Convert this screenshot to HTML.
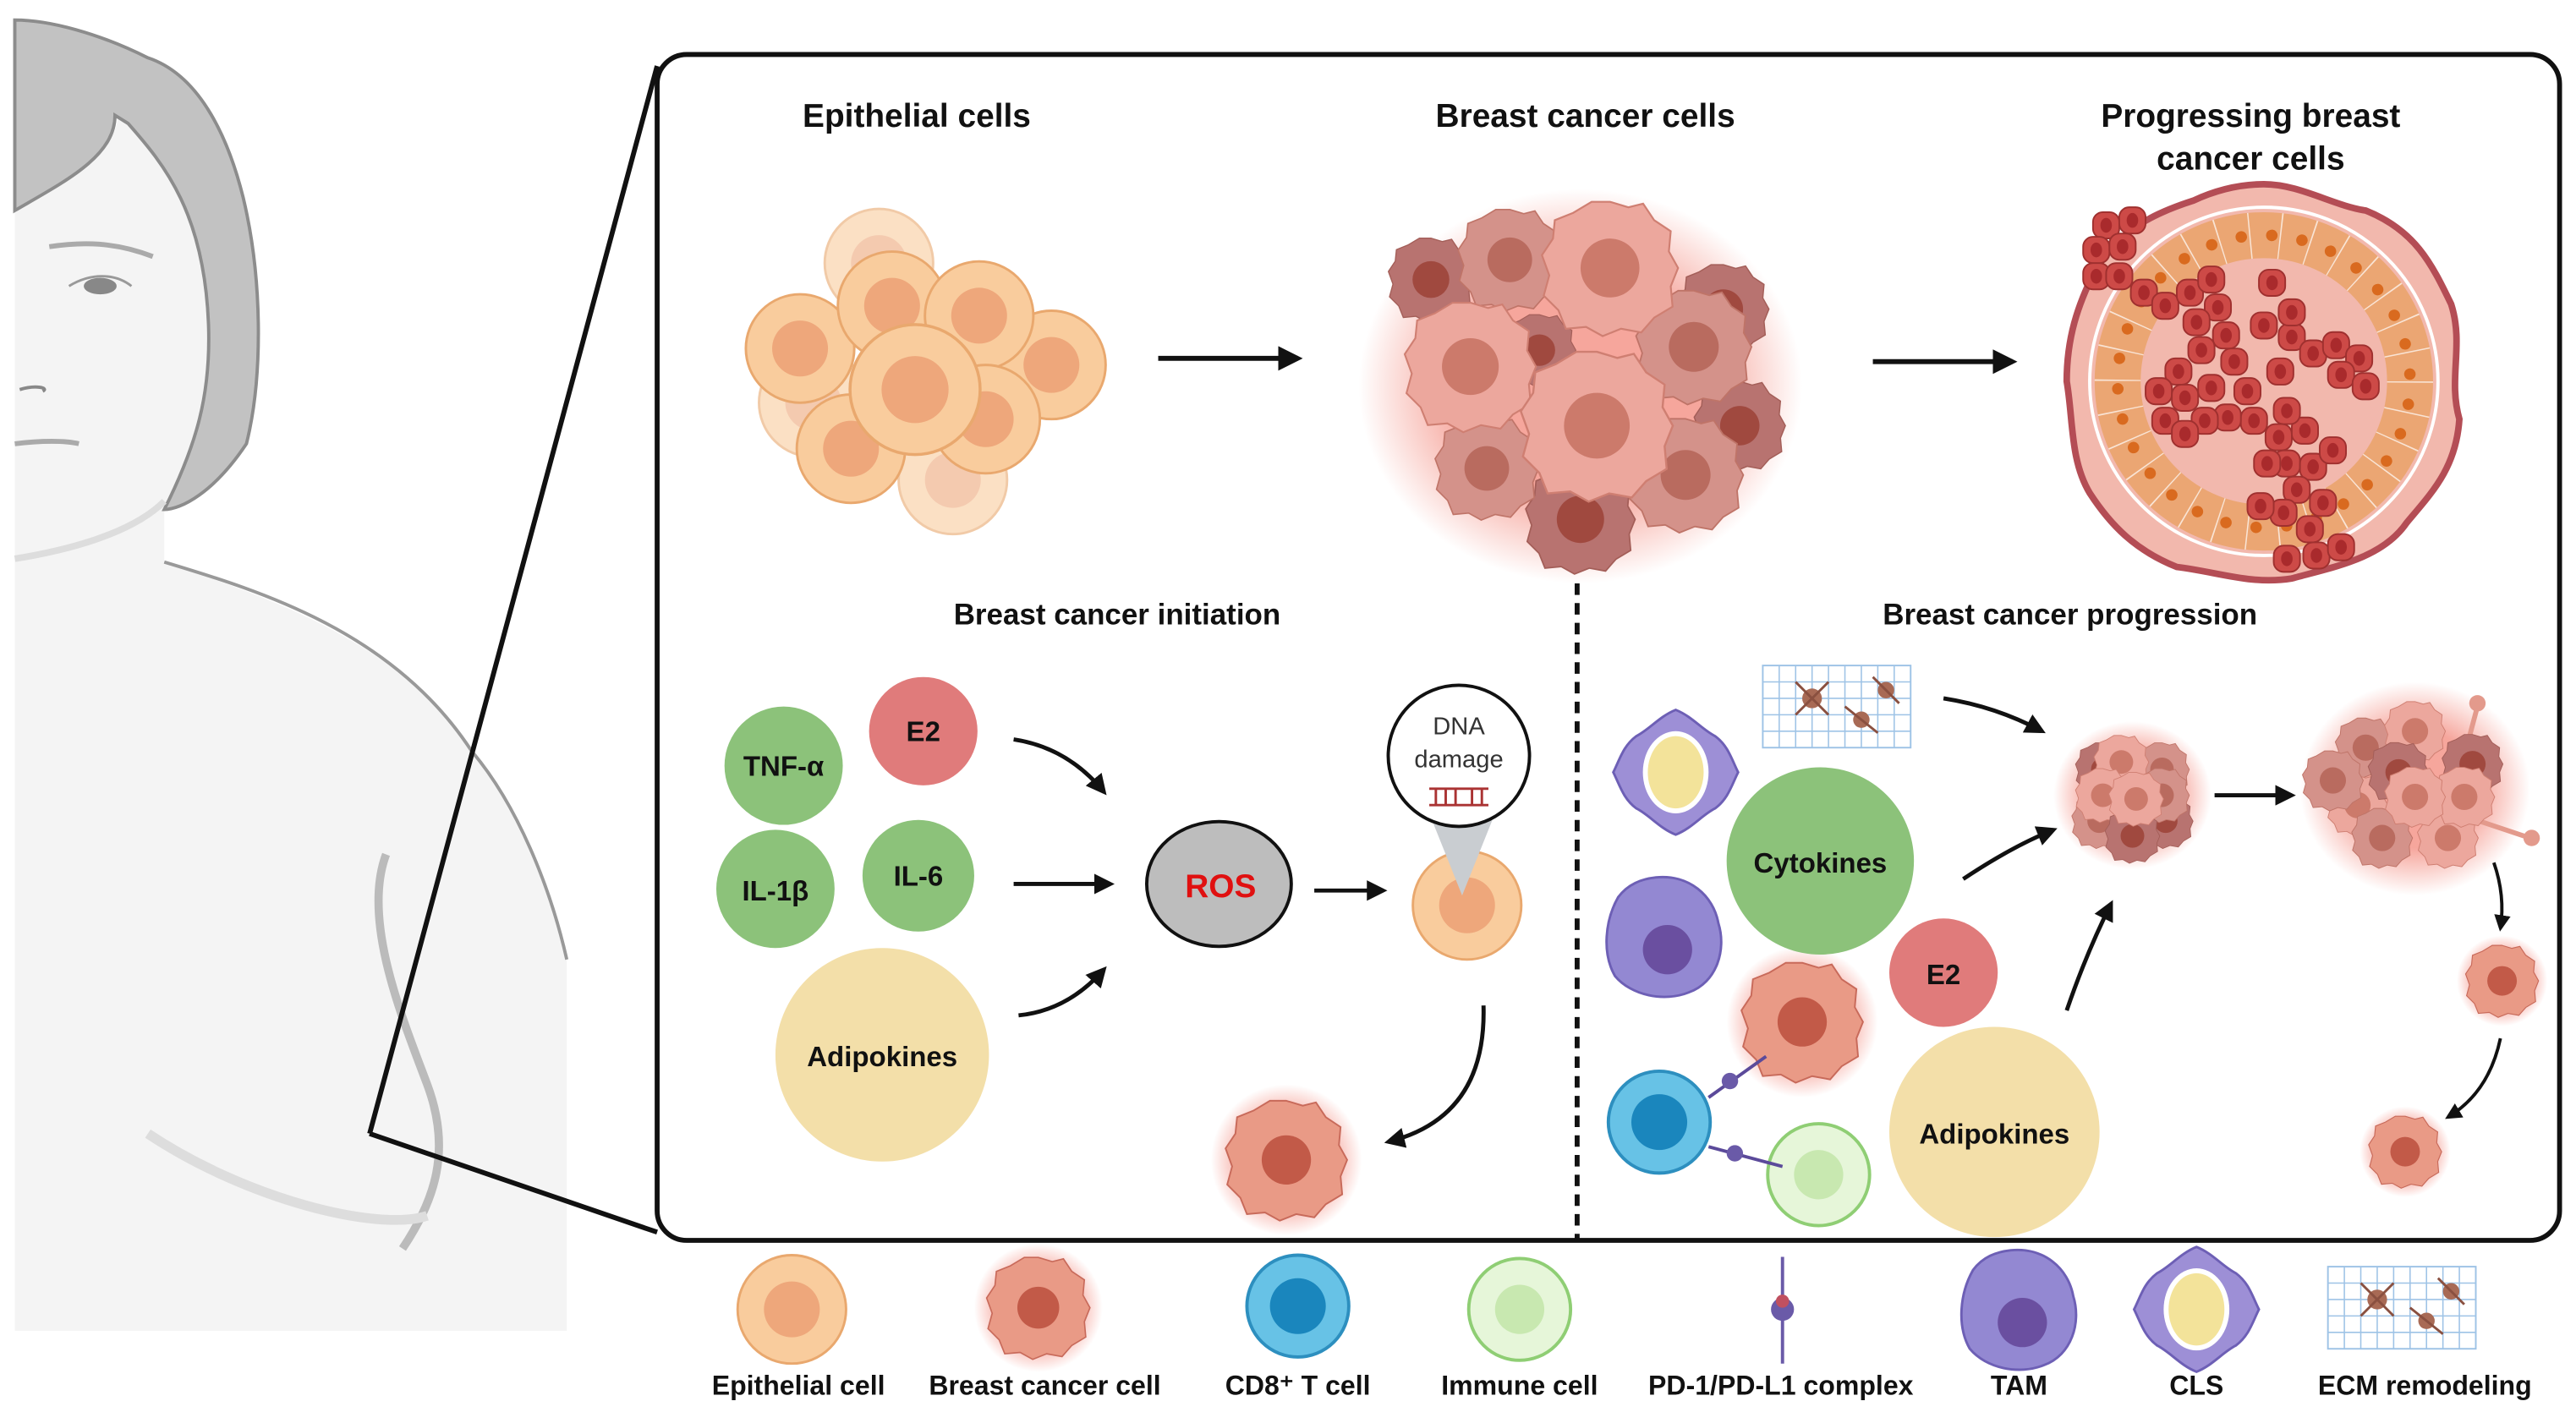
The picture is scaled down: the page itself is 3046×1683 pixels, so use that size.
<!DOCTYPE html>
<html><head><meta charset="utf-8"><style>html,body{margin:0;padding:0;background:#fff}svg{display:block}text{font-family:"Liberation Sans",sans-serif}</style></head>
<body>
<svg width="3046" height="1683" viewBox="0 0 1568 866" xmlns="http://www.w3.org/2000/svg">
<defs>
<radialGradient id="glow"><stop offset="0.55" stop-color="#f06a5a" stop-opacity="0.6"/><stop offset="1" stop-color="#f06a5a" stop-opacity="0"/></radialGradient>
<marker id="ah" viewBox="0 0 10 10" refX="8" refY="5" markerWidth="5" markerHeight="5" orient="auto"><path d="M0,0L10,5L0,10z" fill="#111"/></marker>
<path id="bcp" d="M0,-36 L10,-33 18,-35 24,-26 33,-20 32,-9 37,0 33,10 34,21 24,27 17,35 6,33 -4,37 -13,32 -24,33 -28,23 -36,15 -33,4 -37,-7 -31,-16 -30,-26 -20,-30 -10,-36z"/>
<g id="epi"><circle r="33" fill="#f9cc9d" stroke="#e9a86e" stroke-width="1.5"/><circle r="17" fill="#eea77b"/></g>
<g id="bcL"><use href="#bcp" fill="#eca79d" stroke="#cf7f72" stroke-width="1"/><circle r="16" fill="#cc7a6b"/></g>
<g id="bcM"><use href="#bcp" fill="#d4928a" stroke="#bf7468" stroke-width="1"/><circle r="16" fill="#b96b5f"/></g>
<g id="bcD"><use href="#bcp" fill="#b87370" stroke="#a35e58" stroke-width="1"/><circle r="16" fill="#a0493f"/></g>
<g id="bc"><circle r="46" fill="url(#glow)"/><use href="#bcp" fill="#e99a86" stroke="#c86a5a" stroke-width="1"/><circle r="15" fill="#c25a48"/></g>
<g id="imm"><circle r="31" fill="#e6f6d9" stroke="#8fce74" stroke-width="2"/><circle r="15" fill="#c8e8b0"/></g>
<g id="cd8"><circle r="31" fill="#67c2e6" stroke="#2d8fbf" stroke-width="2"/><circle r="17" fill="#1a86bd"/></g>
<g id="tam"><path d="M-5,-36 C15,-38 30,-25 33,-8 C38,8 32,28 15,34 C0,40 -20,36 -30,24 C-38,10 -36,-10 -28,-24 C-22,-32 -14,-35 -5,-36z" fill="#9388d2" stroke="#6d5fb5" stroke-width="1.5"/><circle cx="2" cy="8" r="15" fill="#6a4fa0"/></g>
<g id="cls"><path d="M0,-38 C10,-34 16,-26 24,-22 C32,-16 34,-8 38,0 C34,8 32,16 24,22 C16,26 10,34 0,38 C-10,34 -16,26 -24,22 C-32,16 -34,8 -38,0 C-34,-8 -32,-16 -24,-22 C-16,-26 -10,-34 0,-38z" fill="#9d8fd6" stroke="#6d5fb5" stroke-width="1.5"/><ellipse rx="20" ry="25" fill="#fff"/><ellipse rx="17" ry="22" fill="#f3e39a"/></g>
<g id="ecm"><rect x="-45" y="-25" width="90" height="50" fill="#fff" stroke="#9ec3e6" stroke-width="1"/><path d="M-45,-15H45M-45,-5H45M-45,5H45M-45,15H45M-35,-25V25M-25,-25V25M-15,-25V25M-5,-25V25M5,-25V25M15,-25V25M25,-25V25M35,-25V25" stroke="#9ec3e6" stroke-width="0.8"/><circle cx="-15" cy="-5" r="6" fill="#a86a55"/><circle cx="15" cy="8" r="5" fill="#a86a55"/><circle cx="30" cy="-10" r="5" fill="#a86a55"/><path d="M-25,-15L-5,5M-25,5L-5,-15M5,0L25,16M22,-18L38,-2" stroke="#8a5040" stroke-width="1.5"/></g>
<g id="rc"><rect x="-8" y="-8" width="16" height="16" rx="6" fill="#cd4a47" stroke="#9f302f" stroke-width="1"/><ellipse rx="3.5" ry="4.5" fill="#a92a2c"/></g>
</defs>
<rect width="1568" height="866" fill="#fff"/>
<!-- woman -->
<path d="M9,128 C40,110 70,95 72,70 L78,75 C95,95 120,125 126,170 C130,210 126,260 100,310 C100,330 100,338 100,342 C150,360 240,385 287,457 C320,500 340,560 345,584 V810 H9z" fill="#f4f4f4"/>
<path d="M100,342 C160,360 240,385 287,457 C315,490 335,540 345,584" fill="none" stroke="#999" stroke-width="2"/>
<path d="M9,128 C40,110 70,95 70,70 L78,75 C100,100 125,130 127,200 C128,240 120,270 100,310 C110,310 130,300 150,270 C160,230 160,170 148,120 C138,80 120,45 90,35 C60,20 30,12 9,12z" fill="#c2c2c2" stroke="#8c8c8c" stroke-width="2"/>
<path d="M9,340 C40,335 80,325 100,305" fill="none" stroke="#ddd" stroke-width="4"/>
<path d="M30,150 C50,147 70,147 93,156" fill="none" stroke="#aaa" stroke-width="3"/>
<ellipse cx="61" cy="174" rx="10" ry="5" fill="#888"/>
<path d="M42,174 C55,166 70,166 80,174" fill="none" stroke="#999" stroke-width="1.5"/>
<path d="M12,237 C22,234 30,236 26,238" fill="none" stroke="#888" stroke-width="2"/>
<path d="M9,270 C25,268 40,268 48,270" fill="none" stroke="#aaa" stroke-width="3"/>
<path d="M235,520 C220,560 245,620 260,660 C275,700 265,730 245,760" fill="none" stroke="#bbb" stroke-width="5"/>
<path d="M90,690 C150,730 230,750 260,740" fill="none" stroke="#ddd" stroke-width="6"/>
<!-- zoom lines -->
<path d="M225,690 L400,40 M225,690 L400,750" stroke="#111" stroke-width="3"/>
<!-- box -->
<rect x="400" y="33" width="1158" height="722" rx="18" fill="#fff" stroke="#111" stroke-width="3"/>
<g font-weight="bold" font-size="20" text-anchor="middle" fill="#111">
<text x="558" y="77">Epithelial cells</text>
<text x="965" y="77">Breast cancer cells</text>
<text x="1370" y="77">Progressing breast</text>
<text x="1370" y="103">cancer cells</text>
</g>
<!-- epithelial cluster -->
<use href="#epi" x="640" y="222"/><use href="#epi" x="495" y="245" opacity="0.6"/><use href="#epi" x="535" y="160" opacity="0.6"/><use href="#epi" x="580" y="292" opacity="0.6"/>
<use href="#epi" x="487" y="212"/><use href="#epi" x="543" y="186"/><use href="#epi" x="596" y="192"/><use href="#epi" x="518" y="273"/><use href="#epi" x="600" y="255"/>
<g transform="translate(557,237) scale(1.2)"><use href="#epi"/></g>
<!-- cancer cluster -->
<ellipse cx="962" cy="235" rx="135" ry="120" fill="url(#glow)"/>
<g transform="translate(871,170) scale(0.7)"><use href="#bcD"/></g>
<g transform="translate(1049,188) scale(0.75)"><use href="#bcD"/></g>
<g transform="translate(1059,259) scale(0.75)"><use href="#bcD"/></g>
<g transform="translate(962,316) scale(0.9)"><use href="#bcD"/></g>
<g transform="translate(937,213) scale(0.6)"><use href="#bcD"/></g>
<g transform="translate(919,158) scale(0.85)"><use href="#bcM"/></g>
<g transform="translate(905,285) scale(0.85)"><use href="#bcM"/></g>
<g transform="translate(1031,211) scale(0.95)"><use href="#bcM"/></g>
<g transform="translate(1026,289) scale(0.95)"><use href="#bcM"/></g>
<g transform="translate(895,223) scale(1.08)"><use href="#bcL"/></g>
<g transform="translate(980,163) scale(1.12)"><use href="#bcL"/></g>
<g transform="translate(972,259) scale(1.25)"><use href="#bcL"/></g>
<!-- arrows -->
<path d="M705,218 H790" stroke="#111" stroke-width="3" marker-end="url(#ah)"/>
<path d="M1140,220 H1225" stroke="#111" stroke-width="3" marker-end="url(#ah)"/>
<!-- duct -->
<path d="M1378,112 C1400,112 1420,125 1440,128 C1470,140 1480,160 1492,185 C1500,210 1490,230 1497,255 C1495,285 1480,300 1465,318 C1450,340 1420,345 1395,352 C1370,356 1350,348 1325,345 C1300,335 1285,320 1272,300 C1260,280 1262,255 1258,232 C1258,205 1265,185 1275,165 C1290,140 1310,130 1335,122 C1350,115 1365,112 1378,112z" fill="#f2b8ad" stroke="#b44d55" stroke-width="4"/>
<circle cx="1378" cy="232" r="106" fill="none" stroke="#fff" stroke-width="2"/>
<circle cx="1378" cy="232" r="89" fill="none" stroke="#eba673" stroke-width="28"/>
<circle cx="1378" cy="232" r="89" fill="none" stroke="#fff" stroke-width="28" stroke-dasharray="0.8 17.85" opacity="0.7"/>
<circle cx="1378" cy="232" r="89" fill="none" stroke="#d96a1f" stroke-width="7" stroke-linecap="round" stroke-dasharray="0 18.64" transform="rotate(9 1378 232)"/>
<g>
<use href="#rc" x="1282" y="137"/><use href="#rc" x="1298" y="134"/><use href="#rc" x="1276" y="152"/><use href="#rc" x="1292" y="150"/><use href="#rc" x="1276" y="168"/><use href="#rc" x="1290" y="168"/><use href="#rc" x="1305" y="178"/><use href="#rc" x="1318" y="186"/><use href="#rc" x="1333" y="178"/><use href="#rc" x="1346" y="170"/><use href="#rc" x="1350" y="187"/><use href="#rc" x="1337" y="196"/><use href="#rc" x="1355" y="204"/><use href="#rc" x="1340" y="213"/><use href="#rc" x="1360" y="220"/><use href="#rc" x="1326" y="226"/><use href="#rc" x="1314" y="238"/><use href="#rc" x="1330" y="242"/><use href="#rc" x="1346" y="236"/><use href="#rc" x="1368" y="238"/><use href="#rc" x="1372" y="256"/><use href="#rc" x="1356" y="254"/><use href="#rc" x="1342" y="256"/><use href="#rc" x="1318" y="256"/><use href="#rc" x="1330" y="264"/><use href="#rc" x="1387" y="266"/><use href="#rc" x="1403" y="262"/><use href="#rc" x="1392" y="282"/><use href="#rc" x="1408" y="284"/><use href="#rc" x="1420" y="274"/><use href="#rc" x="1398" y="298"/><use href="#rc" x="1414" y="306"/><use href="#rc" x="1390" y="312"/><use href="#rc" x="1406" y="322"/><use href="#rc" x="1410" y="338"/><use href="#rc" x="1392" y="340"/><use href="#rc" x="1425" y="333"/><use href="#rc" x="1376" y="308"/><use href="#rc" x="1383" y="172"/><use href="#rc" x="1378" y="198"/><use href="#rc" x="1395" y="205"/><use href="#rc" x="1408" y="215"/><use href="#rc" x="1422" y="210"/><use href="#rc" x="1436" y="218"/><use href="#rc" x="1425" y="228"/><use href="#rc" x="1440" y="235"/><use href="#rc" x="1395" y="190"/><use href="#rc" x="1388" y="226"/><use href="#rc" x="1380" y="282"/><use href="#rc" x="1392" y="250"/>
</g>
<!-- dashed -->
<path d="M960,355 V755" stroke="#111" stroke-width="3" stroke-dasharray="7,5"/>
<g font-weight="bold" font-size="18" text-anchor="middle" fill="#111">
<text x="680" y="380">Breast cancer initiation</text>
<text x="1260" y="380">Breast cancer progression</text>
</g>
<!-- initiation -->
<g font-weight="bold" font-size="17" text-anchor="middle" fill="#111">
<circle cx="477" cy="466" r="36" fill="#8cc27a"/><text x="477" y="472">TNF-α</text>
<circle cx="562" cy="445" r="33" fill="#e07b7b"/><text x="562" y="451">E2</text>
<circle cx="472" cy="541" r="36" fill="#8cc27a"/><text x="472" y="548">IL-1β</text>
<circle cx="559" cy="533" r="34" fill="#8cc27a"/><text x="559" y="539">IL-6</text>
<circle cx="537" cy="642" r="65" fill="#f3dfa9"/><text x="537" y="649">Adipokines</text>
</g>
<path d="M617,450 Q650,455 672,482" fill="none" stroke="#111" stroke-width="2.5" marker-end="url(#ah)"/>
<path d="M617,538 H676" stroke="#111" stroke-width="2.5" marker-end="url(#ah)"/>
<path d="M620,618 Q650,615 672,590" fill="none" stroke="#111" stroke-width="2.5" marker-end="url(#ah)"/>
<ellipse cx="742" cy="538" rx="44" ry="38" fill="#bdbdbd" stroke="#111" stroke-width="2"/>
<text x="743" y="546" font-weight="bold" font-size="20" text-anchor="middle" fill="#e01010">ROS</text>
<path d="M800,542 H842" stroke="#111" stroke-width="2.5" marker-end="url(#ah)"/>
<use href="#epi" x="893" y="551"/>
<path d="M870,495 L890,545 L910,495z" fill="#c9cdd1"/>
<circle cx="888" cy="460" r="43" fill="#fff" stroke="#111" stroke-width="2"/>
<text x="888" y="447" font-size="15" text-anchor="middle" fill="#333">DNA</text>
<text x="888" y="467" font-size="15" text-anchor="middle" fill="#333">damage</text>
<path d="M870,480 H906 M870,490 H906 M874,480V490 M880,480V490 M886,480V490 M896,480V490 M902,480V490" stroke="#a33" stroke-width="1.5"/>
<path d="M903,612 Q905,680 845,695" fill="none" stroke="#111" stroke-width="2.5" marker-end="url(#ah)"/>
<use href="#bc" x="783" y="706"/>
<!-- progression -->
<use href="#cls" x="1020" y="470"/>
<use href="#ecm" x="1118" y="430"/>
<use href="#tam" x="1013" y="570"/>
<use href="#bc" x="1097" y="622"/>
<use href="#cd8" x="1010" y="683"/>
<use href="#imm" x="1107" y="715"/>
<path d="M1040,668 L1075,643 M1040,698 L1085,710" stroke="#5b4a9a" stroke-width="2"/>
<circle cx="1053" cy="658" r="5" fill="#6a5aa8"/><circle cx="1056" cy="702" r="5" fill="#6a5aa8"/>
<g font-weight="bold" font-size="17" text-anchor="middle" fill="#111">
<circle cx="1108" cy="524" r="57" fill="#8cc27a"/><text x="1108" y="531">Cytokines</text>
<circle cx="1183" cy="592" r="33" fill="#e07b7b"/><text x="1183" y="599">E2</text>
<circle cx="1214" cy="689" r="64" fill="#f3dfa9"/><text x="1214" y="696">Adipokines</text>
</g>
<path d="M1183,425 Q1215,430 1243,445" fill="none" stroke="#111" stroke-width="2.5" marker-end="url(#ah)"/>
<path d="M1195,535 Q1225,515 1250,505" fill="none" stroke="#111" stroke-width="2.5" marker-end="url(#ah)"/>
<path d="M1258,615 Q1270,580 1285,550" fill="none" stroke="#111" stroke-width="2.5" marker-end="url(#ah)"/>
<ellipse cx="1298" cy="484" rx="48" ry="45" fill="url(#glow)"/>
<g transform="translate(1298,484) scale(0.45)"><use href="#bcD" x="-40" y="-35"/><use href="#bcM" x="40" y="-35"/><use href="#bcM" x="-45" y="35"/><use href="#bcD" x="45" y="35"/><use href="#bcL" x="-15" y="-45"/><use href="#bcL" x="-40" y="0"/><use href="#bcM" x="40" y="0"/><use href="#bcD" x="0" y="55"/><use href="#bcL" x="5" y="5"/></g>
<path d="M1348,484 H1395" stroke="#111" stroke-width="2.5" marker-end="url(#ah)"/>
<ellipse cx="1470" cy="480" rx="70" ry="65" fill="url(#glow)"/>
<path d="M1500,460 L1508,430 M1510,500 L1540,510 M1470,460 L1478,432" stroke="#e39a8c" stroke-width="3"/>
<circle cx="1508" cy="428" r="5" fill="#e39a8c"/><circle cx="1541" cy="510" r="5" fill="#e39a8c"/>
<g transform="translate(1470,480) scale(0.5)"><use href="#bcM" x="-60" y="-50"/><use href="#bcL" x="0" y="-70"/><use href="#bcD" x="70" y="-30"/><use href="#bcL" x="-70" y="20"/><use href="#bcM" x="-40" y="60"/><use href="#bcL" x="40" y="60"/><use href="#bcL" x="60" y="10"/><use href="#bcD" x="-20" y="-20"/><use href="#bcL" x="0" y="10"/><use href="#bcM" x="-100" y="-10"/></g>
<path d="M1518,525 Q1525,545 1522,565" fill="none" stroke="#111" stroke-width="2" marker-end="url(#ah)"/>
<g transform="translate(1523,597) scale(0.6)"><use href="#bc"/></g>
<path d="M1522,632 Q1515,665 1490,680" fill="none" stroke="#111" stroke-width="2" marker-end="url(#ah)"/>
<g transform="translate(1464,701) scale(0.6)"><use href="#bc"/></g>
<!-- legend -->
<use href="#epi" x="482" y="797"/>
<g transform="translate(632,796) scale(0.85)"><use href="#bc"/></g>
<use href="#cd8" x="790" y="795"/>
<use href="#imm" x="925" y="797"/>
<path d="M1085,765 V830" stroke="#6a5aa8" stroke-width="2"/><circle cx="1085" cy="797" r="7" fill="#6a5aa8"/><circle cx="1085" cy="792" r="4" fill="#c05060"/>
<use href="#tam" x="1229" y="797"/>
<use href="#cls" x="1337" y="797"/>
<use href="#ecm" x="1462" y="796"/>
<g font-weight="bold" font-size="16.5" text-anchor="middle" fill="#111">
<text x="486" y="849">Epithelial cell</text>
<text x="636" y="849">Breast cancer cell</text>
<text x="790" y="849">CD8⁺ T cell</text>
<text x="925" y="849">Immune cell</text>
<text x="1084" y="849">PD-1/PD-L1 complex</text>
<text x="1229" y="849">TAM</text>
<text x="1337" y="849">CLS</text>
<text x="1476" y="849">ECM remodeling</text>
</g>
</svg>
</body></html>
